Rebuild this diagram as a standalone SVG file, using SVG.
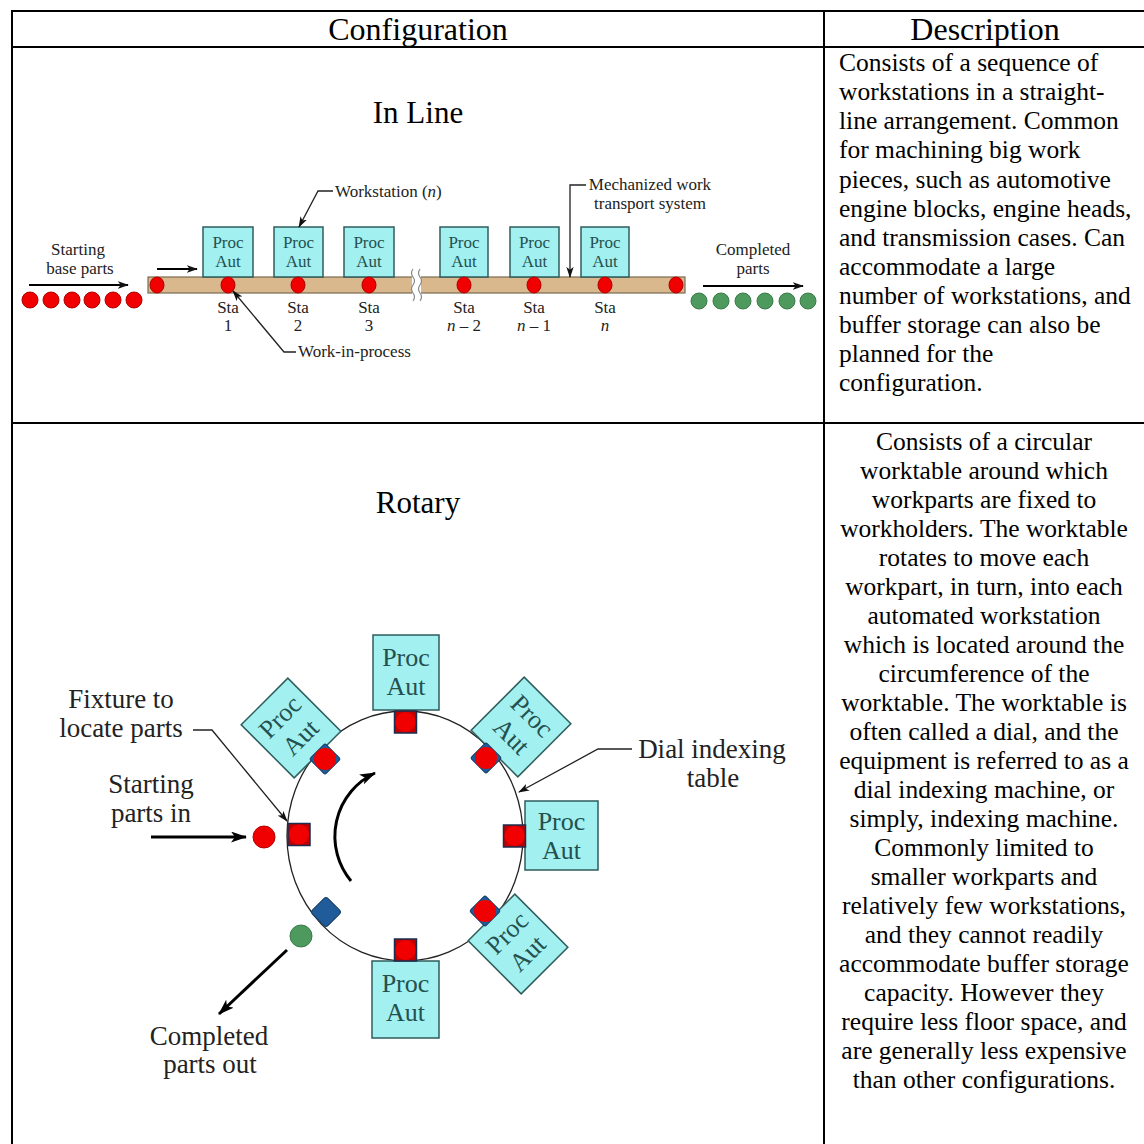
<svg xmlns="http://www.w3.org/2000/svg" width="1144" height="1144" viewBox="0 0 1144 1144">
  <defs>
    <style>
      text { font-family: "Liberation Serif", "Times New Roman", serif; fill: #000; }
      .tbl { stroke: #000; stroke-width: 2; fill: none; }
      .hd { font-size: 32px; text-anchor: middle; }
      .title { font-size: 31px; text-anchor: middle; }
      .desc { font-size: 25.5px; }
      .descc { font-size: 25.5px; text-anchor: middle; }
      .sm { font-size: 17px; fill: #222; }
      .smc { font-size: 17px; fill: #222; text-anchor: middle; }
      .lg { font-size: 27px; fill: #222; text-anchor: middle; }
      .box { fill: #A2F0F0; stroke: #2F5C5C; stroke-width: 1.5; }
      .bt { font-size: 17px; fill: #24504F; text-anchor: middle; }
      .bt2 { font-size: 26px; fill: #24504F; text-anchor: middle; }
      .lead { stroke: #222; stroke-width: 1.3; fill: none; }
      .flow { stroke: #000; stroke-width: 2.2; fill: none; }
      .flowb { stroke: #000; stroke-width: 3; fill: none; }
      .red { fill: #F00000; stroke: #B00000; stroke-width: 1; }
      .grn { fill: #4E9A5E; stroke: #3A7A48; stroke-width: 1; }
      .belt { fill: #D8B88C; stroke: #7A6A50; stroke-width: 1.2; }
      .fixsq { fill: #C00000; stroke: #1C2E50; stroke-width: 1.5; }
      .fixbl { fill: #1F5C99; stroke: #163F6A; stroke-width: 1; }
      .dial { stroke: #222; stroke-width: 1.3; fill: none; }
    </style>
    <marker id="ah" viewBox="0 0 12 8" refX="11" refY="4" markerWidth="11" markerHeight="8" markerUnits="userSpaceOnUse" orient="auto">
      <path d="M0,0 L12,4 L0,8 L3,4 z" fill="#111"/>
    </marker>
    <marker id="ahb" viewBox="0 0 16 11" refX="15" refY="5.5" markerWidth="16" markerHeight="11" markerUnits="userSpaceOnUse" orient="auto">
      <path d="M0,0 L16,5.5 L0,11 L4,5.5 z" fill="#000"/>
    </marker>
  </defs>

  <rect width="1144" height="1144" fill="#fff"/>

  <!-- table grid -->
  <g id="table">
    <line class="tbl" x1="11" y1="11" x2="1144" y2="11"/>
    <line class="tbl" x1="11" y1="47" x2="1144" y2="47"/>
    <line class="tbl" x1="11" y1="423" x2="1144" y2="423"/>
    <line class="tbl" x1="12" y1="10" x2="12" y2="1144"/>
    <line class="tbl" x1="824" y1="10" x2="824" y2="1144"/>
    <text class="hd" x="418" y="40">Configuration</text>
    <text class="hd" x="985" y="40">Description</text>
  </g>

  <!-- description texts -->
  <g id="desc-inline" class="desc">
    <text class="desc" x="839" y="71">Consists of a sequence of</text>
    <text class="desc" x="839" y="100">workstations in a straight-</text>
    <text class="desc" x="839" y="129">line arrangement. Common</text>
    <text class="desc" x="839" y="158">for machining big work</text>
    <text class="desc" x="839" y="188">pieces, such as automotive</text>
    <text class="desc" x="839" y="217">engine blocks, engine heads,</text>
    <text class="desc" x="839" y="246">and transmission cases. Can</text>
    <text class="desc" x="839" y="275">accommodate a large</text>
    <text class="desc" x="839" y="304">number of workstations, and</text>
    <text class="desc" x="839" y="333">buffer storage can also be</text>
    <text class="desc" x="839" y="362">planned for the</text>
    <text class="desc" x="839" y="391">configuration.</text>
  </g>
  <g id="desc-rotary">
    <text class="descc" x="984" y="450">Consists of a circular</text>
    <text class="descc" x="984" y="479">worktable around which</text>
    <text class="descc" x="984" y="508">workparts are fixed to</text>
    <text class="descc" x="984" y="537">workholders. The worktable</text>
    <text class="descc" x="984" y="566">rotates to move each</text>
    <text class="descc" x="984" y="595">workpart, in turn, into each</text>
    <text class="descc" x="984" y="624">automated workstation</text>
    <text class="descc" x="984" y="653">which is located around the</text>
    <text class="descc" x="984" y="682">circumference of the</text>
    <text class="descc" x="984" y="711">worktable. The worktable is</text>
    <text class="descc" x="984" y="740">often called a dial, and the</text>
    <text class="descc" x="984" y="769">equipment is referred to as a</text>
    <text class="descc" x="984" y="798">dial indexing machine, or</text>
    <text class="descc" x="984" y="827">simply, indexing machine.</text>
    <text class="descc" x="984" y="856">Commonly limited to</text>
    <text class="descc" x="984" y="885">smaller workparts and</text>
    <text class="descc" x="984" y="914">relatively few workstations,</text>
    <text class="descc" x="984" y="943">and they cannot readily</text>
    <text class="descc" x="984" y="972">accommodate buffer storage</text>
    <text class="descc" x="984" y="1001">capacity. However they</text>
    <text class="descc" x="984" y="1030">require less floor space, and</text>
    <text class="descc" x="984" y="1059">are generally less expensive</text>
    <text class="descc" x="984" y="1088">than other configurations.</text>
  </g>

  <!-- ===== In-line transfer line ===== -->
  <text class="title" x="418" y="123">In Line</text>

  <g id="inline-input">
    <text class="smc" x="78" y="255">Starting</text>
    <text class="smc" x="80" y="274">base parts</text>
    <circle class="red" cx="30" cy="300" r="8"/>
    <circle class="red" cx="51" cy="300" r="8"/>
    <circle class="red" cx="72" cy="300" r="8"/>
    <circle class="red" cx="92" cy="300" r="8"/>
    <circle class="red" cx="113" cy="300" r="8"/>
    <circle class="red" cx="134" cy="300" r="8"/>
  </g>

  <g id="inline-belt">
    <rect class="belt" x="148" y="277" width="537" height="16"/>
    <!-- break in the transport line -->
    <rect x="412" y="276" width="9" height="18" fill="#fff"/>
    <path d="M413,269 q-3,4 0,8 q3,4 0,8 q-3,4 0,8 q3,4 0,8" stroke="#888" stroke-width="1.2" fill="none"/>
    <path d="M420,269 q-3,4 0,8 q3,4 0,8 q-3,4 0,8 q3,4 0,8" stroke="#888" stroke-width="1.2" fill="none"/>
  </g>

  <g id="inline-stations">
    <g id="sta1"><rect class="box" x="203" y="227" width="50" height="50"/><text class="bt" x="228" y="248">Proc</text><text class="bt" x="228" y="267">Aut</text></g>
    <g id="sta2"><rect class="box" x="274" y="227" width="49" height="50"/><text class="bt" x="298.5" y="248">Proc</text><text class="bt" x="298.5" y="267">Aut</text></g>
    <g id="sta3"><rect class="box" x="344" y="227" width="50" height="50"/><text class="bt" x="369" y="248">Proc</text><text class="bt" x="369" y="267">Aut</text></g>
    <g id="sta-n2"><rect class="box" x="440" y="227" width="48" height="50"/><text class="bt" x="464" y="248">Proc</text><text class="bt" x="464" y="267">Aut</text></g>
    <g id="sta-n1"><rect class="box" x="510" y="227" width="49" height="50"/><text class="bt" x="534.5" y="248">Proc</text><text class="bt" x="534.5" y="267">Aut</text></g>
    <g id="sta-n"><rect class="box" x="581" y="227" width="48" height="50"/><text class="bt" x="605" y="248">Proc</text><text class="bt" x="605" y="267">Aut</text></g>
  </g>

  <g id="inline-wip">
    <ellipse class="red" cx="157" cy="285" rx="7" ry="8"/>
    <ellipse class="red" cx="228" cy="285" rx="7" ry="8"/>
    <ellipse class="red" cx="298" cy="285" rx="7" ry="8"/>
    <ellipse class="red" cx="369" cy="285" rx="7" ry="8"/>
    <ellipse class="red" cx="464" cy="285" rx="7" ry="8"/>
    <ellipse class="red" cx="534" cy="285" rx="7" ry="8"/>
    <ellipse class="red" cx="605" cy="285" rx="7" ry="8"/>
    <ellipse class="red" cx="676" cy="285" rx="7" ry="8"/>
  </g>

  <g id="inline-sta-labels">
    <text class="smc" x="228" y="313">Sta</text><text class="smc" x="228" y="331">1</text>
    <text class="smc" x="298" y="313">Sta</text><text class="smc" x="298" y="331">2</text>
    <text class="smc" x="369" y="313">Sta</text><text class="smc" x="369" y="331">3</text>
    <text class="smc" x="464" y="313">Sta</text><text class="smc" x="464" y="331"><tspan font-style="italic">n</tspan> – 2</text>
    <text class="smc" x="534" y="313">Sta</text><text class="smc" x="534" y="331"><tspan font-style="italic">n</tspan> – 1</text>
    <text class="smc" x="605" y="313">Sta</text><text class="smc" x="605" y="331" font-style="italic">n</text>
  </g>

  <g id="inline-output">
    <text class="smc" x="753" y="255">Completed</text>
    <text class="smc" x="753" y="274">parts</text>
    <circle class="grn" cx="699" cy="301" r="8"/>
    <circle class="grn" cx="721" cy="301" r="8"/>
    <circle class="grn" cx="743" cy="301" r="8"/>
    <circle class="grn" cx="765" cy="301" r="8"/>
    <circle class="grn" cx="787" cy="301" r="8"/>
    <circle class="grn" cx="808" cy="301" r="8"/>
  </g>

  <g id="inline-callouts">
    <text class="sm" x="335" y="197">Workstation (<tspan font-style="italic">n</tspan>)</text>
    <text class="smc" x="650" y="190">Mechanized work</text>
    <text class="smc" x="650" y="209">transport system</text>
    <text class="sm" x="298" y="357">Work-in-process</text>
  </g>

  <g id="inline-connectors">
    <line class="flow" x1="29" y1="285" x2="128" y2="285" marker-end="url(#ah)"/>
    <line class="flow" x1="157" y1="269" x2="197" y2="269" marker-end="url(#ah)"/>
    <line class="flow" x1="703" y1="286" x2="803" y2="286" marker-end="url(#ah)"/>
    <polyline class="lead" points="333,191 318,191 299,227" marker-end="url(#ah)"/>
    <polyline class="lead" points="586,185 570,185 570,277" marker-end="url(#ah)"/>
    <polyline class="lead" points="296,352 284,352 233,291" marker-end="url(#ah)"/>
  </g>

  <!-- ===== Rotary indexing machine ===== -->
  <text class="title" x="418" y="513">Rotary</text>

  <g id="dial-table">
    <ellipse class="dial" cx="405" cy="836" rx="118" ry="125"/>
  </g>

  <g id="rot-top"><rect class="box" x="373" y="635" width="66" height="75"/><text class="bt2" x="406" y="666">Proc</text><text class="bt2" x="406" y="695">Aut</text></g>
  <g id="rot-right"><rect class="box" x="525" y="801" width="73" height="69"/><text class="bt2" x="561.5" y="830">Proc</text><text class="bt2" x="561.5" y="859">Aut</text></g>
  <g id="rot-bottom"><rect class="box" x="372" y="961" width="67" height="77"/><text class="bt2" x="405.5" y="992">Proc</text><text class="bt2" x="405.5" y="1021">Aut</text></g>
  <g id="rot-upper-left" transform="translate(291,728) rotate(-45)"><rect class="box" x="-33" y="-37.5" width="66" height="75"/><text class="bt2" x="0" y="-7">Proc</text><text class="bt2" x="0" y="22">Aut</text></g>
  <g id="rot-upper-right" transform="translate(521,727) rotate(45)"><rect class="box" x="-33" y="-37.5" width="66" height="75"/><text class="bt2" x="0" y="-7">Proc</text><text class="bt2" x="0" y="22">Aut</text></g>
  <g id="rot-lower-right" transform="translate(518,944) rotate(-45)"><rect class="box" x="-33" y="-37.5" width="66" height="75"/><text class="bt2" x="0" y="-7">Proc</text><text class="bt2" x="0" y="22">Aut</text></g>

  <g id="fixtures">
    <rect class="fixsq" x="394.5" y="711" width="22" height="22"/><circle cx="405.5" cy="722" r="10" fill="#F00000"/>
    <rect class="fixsq" x="503.5" y="825" width="22" height="22"/><circle cx="514.5" cy="836" r="10" fill="#F00000"/>
    <rect class="fixsq" x="394.5" y="939" width="22" height="22"/><circle cx="405.5" cy="950" r="10" fill="#F00000"/>
    <rect class="fixsq" x="288" y="823.5" width="22" height="22"/><circle cx="299" cy="834.5" r="10" fill="#F00000"/>
    <rect class="fixbl" x="314" y="748" width="22" height="22" rx="2" transform="rotate(45 325 759)"/><circle cx="325" cy="759" r="11" fill="#F00000"/>
    <rect class="fixbl" x="475" y="747" width="22" height="22" rx="2" transform="rotate(45 486 758)"/><circle cx="486" cy="758" r="11" fill="#F00000"/>
    <rect class="fixbl" x="474" y="900" width="22" height="22" rx="2" transform="rotate(45 485 911)"/><circle cx="485" cy="911" r="11" fill="#F00000"/>
    <rect class="fixbl" x="315" y="901" width="22" height="22" rx="3" transform="rotate(45 326 912)"/>
  </g>

  <g id="rot-parts">
    <circle cx="264" cy="837" r="11" fill="#F00000" stroke="#B00000" stroke-width="1"/>
    <circle class="grn" cx="301" cy="936" r="11"/>
  </g>

  <g id="rot-labels">
    <text class="lg" x="121" y="708">Fixture to</text>
    <text class="lg" x="121" y="737">locate parts</text>
    <text class="lg" x="151" y="793">Starting</text>
    <text class="lg" x="151" y="822">parts in</text>
    <text class="lg" x="712" y="758">Dial indexing</text>
    <text class="lg" x="713" y="787">table</text>
    <text class="lg" x="209" y="1045">Completed</text>
    <text class="lg" x="210" y="1073">parts out</text>
  </g>

  <g id="rot-connectors">
    <polyline class="lead" points="193,730 212,730 287,821" marker-end="url(#ah)"/>
    <polyline class="lead" points="632,749 598,749 519,792" marker-end="url(#ah)"/>
    <line class="flowb" x1="151" y1="837" x2="246" y2="837" marker-end="url(#ahb)"/>
    <line class="flowb" x1="287" y1="950" x2="219" y2="1014" marker-end="url(#ahb)"/>
    <path class="flowb" d="M351,881 A70,70 0 0 1 375,773" marker-end="url(#ahb)"/>
  </g>
</svg>
